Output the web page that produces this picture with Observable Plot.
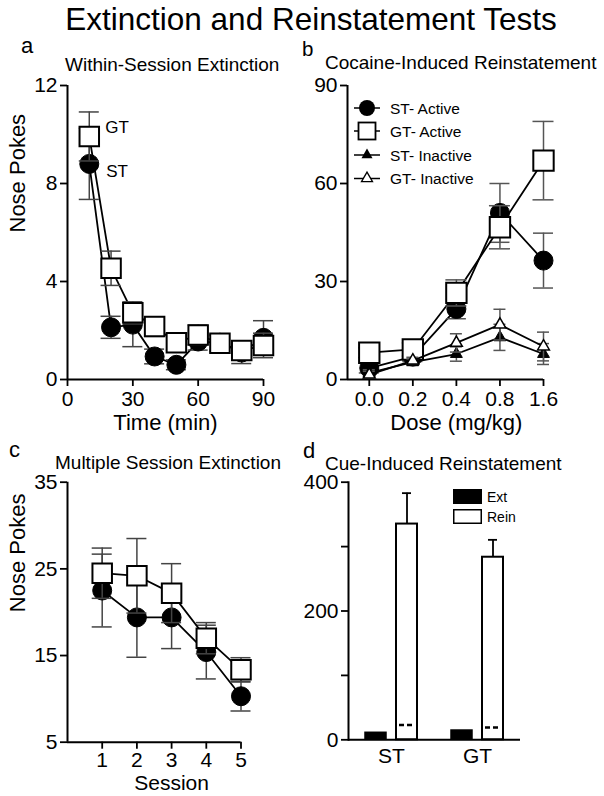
<!DOCTYPE html>
<html><head><meta charset="utf-8">
<script src="https://cdn.jsdelivr.net/npm/d3@7"></script>
<script src="https://cdn.jsdelivr.net/npm/@observablehq/plot@0.6"></script>
<style>
html,body{margin:0;padding:0;background:#fff;}
#root{position:relative;width:604px;height:796px;overflow:hidden;background:#fff;font-family:"Liberation Sans",Arial,Helvetica,sans-serif;}
.panel{position:absolute;}
#overlay{position:absolute;left:0;top:0;pointer-events:none;}
</style></head>
<body><div id="root"></div>
<script>
// ---------- Panel a: Within-Session Extinction ----------
const timeMin = [10, 20, 30, 40, 50, 60, 70, 80, 90];
const stWithin = [8.8, 2.13, 2.24, 0.94, 0.6, 1.55, 1.5, 1.1, 1.7];
const stWithinErr = [1.45, 0.45, 0.9, 0.3, 0.2, 0.35, 0.3, 0.45, 0.7];
const gtWithin = [9.92, 4.54, 2.72, 2.16, 1.5, 1.82, 1.48, 1.18, 1.39];
const gtWithinErr = [1.0, 0.7, 0.45, 0.4, 0.3, 0.4, 0.35, 0.3, 0.5];
const timeTicks = [0, 30, 60, 90];
const pokeTicksA = [0, 4, 8, 12];

// ---------- Panel b: Cocaine-Induced Reinstatement ----------
const doseLabels = ["0.0", "0.2", "0.4", "0.8", "1.6"];
const stActive = [3.5, 7, 21.6, 51, 36.4];
const stActiveErr = [1.5, 1.5, 3, 9, 8.4];
const gtActive = [8.2, 9.2, 26.5, 46.6, 67];
const gtActiveErr = [1.5, 2, 4, 6.6, 12];
const stInactive = [2, 5.3, 7.8, 12.9, 7.8];
const stInactiveErr = [1, 1, 2.2, 4, 3.2];
const gtInactive = [1.5, 5.8, 11.2, 16.8, 10.1];
const gtInactiveErr = [1, 1, 2.8, 4.7, 4.4];
const pokeTicksB = [0, 30, 60, 90];

// ---------- Panel c: Multiple Session Extinction ----------
const sessions = [1, 2, 3, 4, 5];
const stSession = [22.5, 19.4, 19.4, 15.4, 10.3];
const stSessionErr = [4.2, 4.6, 3.6, 3.1, 1.7];
const gtSession = [24.5, 24.2, 22.2, 17.0, 13.35];
const gtSessionErr = [2.9, 4.3, 3.4, 1.8, 1.4];
const pokeTicksC = [5, 15, 25, 35];

// ---------- Panel d: Cue-Induced Reinstatement ----------
const groups = ["ST", "GT"];
const conditions = ["Ext", "Rein"];
const extMeans = [10.9, 14.4];
const reinMeans = [335, 283.5];
const reinErr = [48, 27];
const reinInactive = [23, 19];
const pokeTicksD = [0, 100, 200, 300, 400];

// ---------- helpers ----------
const FONT = '"Liberation Sans", Arial, Helvetica, sans-serif';
const root = document.getElementById("root");
function place(svg, left, top) {
  const div = document.createElement("div");
  div.className = "panel";
  div.style.left = left + "px";
  div.style.top = top + "px";
  div.appendChild(svg);
  root.appendChild(div);
}
function opts(o) {
  return Object.assign({
    style: {fontFamily: FONT, fontSize: "21px", color: "black", background: "transparent", overflow: "visible"}
  }, o);
}
function rows(xs, vals, errs) {
  return xs.map((x, i) => ({x, v: vals[i], e: errs[i]}));
}
function errMarks(data, half, stroke = "#444") {
  return [
    Plot.ruleX(data, {x: "x", y1: d => d.v - d.e, y2: d => d.v + d.e, stroke, strokeWidth: 1.5}),
    Plot.ruleY(data, {x1: "x", x2: "x", y: d => d.v + d.e, insetLeft: -half, insetRight: -half, stroke, strokeWidth: 1.5}),
    Plot.ruleY(data, {x1: "x", x2: "x", y: d => d.v - d.e, insetLeft: -half, insetRight: -half, stroke, strokeWidth: 1.5})
  ];
}
const axisStyle = {tickSize: 7, strokeWidth: 1.8, label: null};

// ---------- Panel a ----------
const stA = rows(timeMin, stWithin, stWithinErr);
const gtA = rows(timeMin, gtWithin, gtWithinErr);
place(Plot.plot(opts({
  width: 300, height: 370, marginLeft: 67, marginRight: 37, marginTop: 15, marginBottom: 61,
  x: {domain: [0, 90]}, y: {domain: [0, 12]},
  marks: [
    Plot.axisX({...axisStyle, ticks: timeTicks, tickPadding: 5}),
    Plot.axisY({...axisStyle, ticks: pokeTicksA, tickPadding: 3}),
    Plot.ruleY([0], {strokeWidth: 2}),
    Plot.ruleX([0], {strokeWidth: 2}),
    Plot.line(stA, {x: "x", y: "v", strokeWidth: 1.8}),
    ...errMarks(stA, 10),
    Plot.dot(stA, {x: "x", y: "v", r: 9.5, fill: "black", stroke: "black", strokeWidth: 1}),
    Plot.line(gtA, {x: "x", y: "v", strokeWidth: 1.8}),
    ...errMarks(gtA, 10),
    Plot.dot(gtA, {x: "x", y: "v", symbol: "square", r: 11, fill: "white", stroke: "black", strokeWidth: 2}),
    Plot.text([gtA[0]], {x: "x", y: "v", text: () => "GT", dx: 16, dy: -9, textAnchor: "start", fontSize: 17}),
    Plot.text([stA[0]], {x: "x", y: "v", text: () => "ST", dx: 17, dy: 8, textAnchor: "start", fontSize: 17}),
    Plot.text(["Time (min)"], {x: [45], frameAnchor: "bottom", dy: 50, text: d => d, fontSize: 22}),
    Plot.text(["Nose Pokes"], {frameAnchor: "left", dx: -50, rotate: -90, text: d => d, fontSize: 22})
  ]
})), 0, 70);

// ---------- Panel b ----------
const doseIdx = doseLabels.map((d, i) => i);
const stAct = rows(doseIdx, stActive, stActiveErr);
const gtAct = rows(doseIdx, gtActive, gtActiveErr);
const stIna = rows(doseIdx, stInactive, stInactiveErr);
const gtIna = rows(doseIdx, gtInactive, gtInactiveErr);
place(Plot.plot(opts({
  width: 304, height: 370, marginLeft: 47, marginRight: 61, marginTop: 15, marginBottom: 61,
  x: {domain: [-0.5, 4]}, y: {domain: [0, 90]},
  marks: [
    Plot.axisX({...axisStyle, ticks: doseIdx, tickFormat: i => doseLabels[i], tickPadding: 5}),
    Plot.axisY({...axisStyle, ticks: pokeTicksB, tickPadding: 3}),
    Plot.ruleY([0], {strokeWidth: 2}),
    Plot.ruleX([-0.5], {strokeWidth: 2}),
    Plot.line(stAct, {x: "x", y: "v", strokeWidth: 1.8}),
    ...errMarks(stAct, 10, "#555"),
    Plot.dot(stAct, {x: "x", y: "v", r: 9.5, fill: "black", stroke: "black", strokeWidth: 1}),
    Plot.line(gtAct, {x: "x", y: "v", strokeWidth: 1.8}),
    ...errMarks(gtAct, 10.5, "#555"),
    Plot.dot(gtAct, {x: "x", y: "v", symbol: "square", r: 11.5, fill: "white", stroke: "black", strokeWidth: 2}),
    Plot.line(stIna, {x: "x", y: "v", strokeWidth: 1.8}),
    ...errMarks(stIna, 6, "#555"),
    Plot.dot(stIna, {x: "x", y: "v", symbol: "triangle", r: 4.4, fill: "black", stroke: "black", strokeWidth: 1}),
    Plot.line(gtIna, {x: "x", y: "v", strokeWidth: 1.8}),
    ...errMarks(gtIna, 6, "#555"),
    Plot.dot(gtIna, {x: "x", y: "v", symbol: "triangle", r: 4.4, fill: "white", stroke: "black", strokeWidth: 1.5}),
    Plot.text(["Dose (mg/kg)"], {x: [2], frameAnchor: "bottom", dy: 50, text: d => d, fontSize: 22})
  ]
})), 300, 70);

// ---------- Panel c ----------
const stC = rows(sessions, stSession, stSessionErr);
const gtC = rows(sessions, gtSession, gtSessionErr);
place(Plot.plot(opts({
  width: 300, height: 326, marginLeft: 67, marginRight: 59.5, marginTop: 11.7, marginBottom: 54.3,
  x: {domain: [0, 5]}, y: {domain: [5, 35]},
  marks: [
    Plot.axisX({...axisStyle, ticks: sessions, tickFormat: d => String(d), tickPadding: 3}),
    Plot.axisY({...axisStyle, ticks: pokeTicksC, tickFormat: d => String(d), tickPadding: 3}),
    Plot.ruleY([5], {strokeWidth: 2}),
    Plot.ruleX([0], {strokeWidth: 2}),
    Plot.line(stC, {x: "x", y: "v", strokeWidth: 1.8}),
    ...errMarks(stC, 10),
    Plot.dot(stC, {x: "x", y: "v", r: 9.5, fill: "black", stroke: "black", strokeWidth: 1}),
    Plot.line(gtC, {x: "x", y: "v", strokeWidth: 1.8}),
    ...errMarks(gtC, 10),
    Plot.dot(gtC, {x: "x", y: "v", symbol: "square", r: 11, fill: "white", stroke: "black", strokeWidth: 2}),
    Plot.text(["Session"], {x: [3], frameAnchor: "bottom", dy: 48, text: d => d, fontSize: 21}),
    Plot.text(["Nose Pokes"], {frameAnchor: "left", dx: -50, rotate: -90, text: d => d, fontSize: 22})
  ]
})), 0, 470);

// ---------- Panel d ----------
const extRows = groups.map((g, i) => ({g, c: conditions[0], v: extMeans[i]}));
const reinRows = groups.map((g, i) => ({g, c: conditions[1], v: reinMeans[i], e: reinErr[i], inact: reinInactive[i]}));
place(Plot.plot(opts({
  width: 304, height: 326, marginLeft: 47, marginRight: 84, marginTop: 11.7, marginBottom: 56.7,
  fx: {domain: groups, padding: 0, label: null},
  x: {domain: conditions, paddingInner: 0.3125, paddingOuter: 0.511, axis: null},
  y: {domain: [0, 400]},
  marks: [
    Plot.axisFx({anchor: "bottom", tickSize: 0, tickPadding: 8, label: null}),
    Plot.axisY({...axisStyle, ticks: pokeTicksD, tickFormat: d => (d % 200 === 0 ? String(d) : ""), tickPadding: 3}),
    Plot.ruleX(reinRows, {fx: "g", x: "c", y1: "v", y2: d => d.v + d.e, strokeWidth: 1.8}),
    Plot.tickY(reinRows, {fx: "g", x: "c", y: d => d.v + d.e, insetLeft: 6, insetRight: 6, strokeWidth: 1.8}),
    Plot.barY(extRows, {fx: "g", x: "c", y: "v", fill: "black", stroke: "black", strokeWidth: 1.5}),
    Plot.barY(reinRows, {fx: "g", x: "c", y: "v", fill: "white", stroke: "black", strokeWidth: 2}),
    Plot.tickY(reinRows, {fx: "g", x: "c", y: "inact", strokeDasharray: "5,3", strokeWidth: 2.5, insetLeft: 3, insetRight: 3}),
    Plot.ruleY([0], {strokeWidth: 2}),
    Plot.frame({anchor: "left", facetAnchor: "left", strokeWidth: 2})
  ]
})), 300, 470);

// ---------- Overlay: title, panel letters, panel titles, legends ----------
const tri = (cx, cy, s) => `${cx},${cy - s * 0.58} ${cx - s / 2},${cy + s * 0.29} ${cx + s / 2},${cy + s * 0.29}`;
const legB = [
  {label: "ST- Active", y: 108, sym: `<circle cx="367" cy="108" r="8" fill="black"/>`},
  {label: "GT- Active", y: 131, sym: `<rect x="358.5" y="122.5" width="17" height="17" fill="white" stroke="black" stroke-width="1.8"/>`},
  {label: "ST- Inactive", y: 155, sym: `<polygon points="${tri(367, 155, 11)}" fill="black"/>`},
  {label: "GT- Inactive", y: 178.5, sym: `<polygon points="${tri(367, 178.5, 11)}" fill="white" stroke="black" stroke-width="1.3"/>`}
];
const overlay = `
<svg id="overlay" width="604" height="796" xmlns="http://www.w3.org/2000/svg" font-family='${FONT}' fill="black">
  <text x="311" y="30.3" font-size="31.5" text-anchor="middle">Extinction and Reinstatement Tests</text>
  <text x="21" y="53.3" font-size="22">a</text>
  <text x="302" y="56" font-size="20.5">b</text>
  <text x="9" y="456.7" font-size="22">c</text>
  <text x="303" y="458" font-size="22">d</text>
  <text x="65" y="70.7" font-size="19">Within-Session Extinction</text>
  <text x="325" y="69.3" font-size="19">Cocaine-Induced Reinstatement</text>
  <text x="55" y="469.3" font-size="19">Multiple Session Extinction</text>
  <text x="325" y="470" font-size="19">Cue-Induced Reinstatement</text>
  ${legB.map(r => `<line x1="354" x2="380" y1="${r.y}" y2="${r.y}" stroke="black" stroke-width="1.5"/>${r.sym}<text x="390" y="${r.y + 5.5}" font-size="15.5">${r.label}</text>`).join("")}
  <rect x="453" y="489" width="29" height="15" fill="black"/>
  <rect x="453.75" y="509.75" width="27.5" height="13.5" fill="white" stroke="black" stroke-width="1.5"/>
  <text x="487" y="501.5" font-size="14">Ext</text>
  <text x="487" y="521.5" font-size="14">Rein</text>
</svg>`;
root.insertAdjacentHTML("beforeend", overlay);
</script>
</body></html>
